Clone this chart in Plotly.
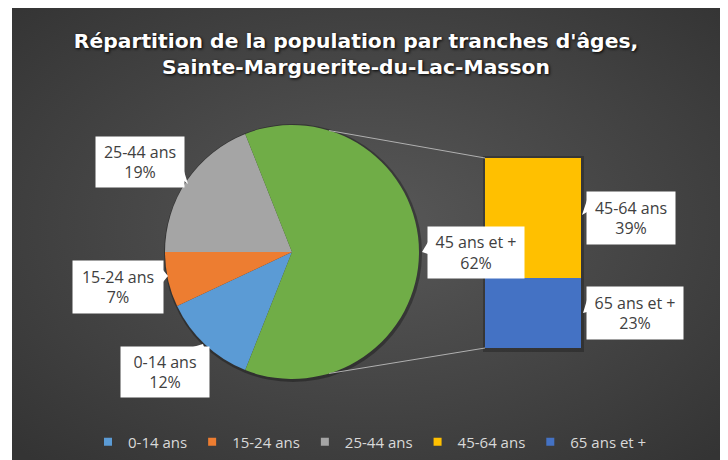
import base64
import math
import plotly.graph_objects as go

# ---------------- data ----------------
pie_labels = ["0-14 ans", "15-24 ans", "25-44 ans", "45 ans et +"]
pie_values = [12, 7, 19, 62]
pie_colors = ["#5B9BD5", "#ED7D31", "#A5A5A5", "#70AD47"]

bar_labels = ["65 ans et +", "45-64 ans"]      # bottom to top
bar_values = [23, 39]
bar_colors = ["#4472C4", "#FFC000"]

legend_labels = ["0-14 ans", "15-24 ans", "25-44 ans", "45-64 ans", "65 ans et +"]
legend_colors = ["#5B9BD5", "#ED7D31", "#A5A5A5", "#FFC000", "#4472C4"]

title_text = ("Répartition de la population par tranches d'âges,<br>"
              "Sainte-Marguerite-du-Lac-Masson")

# ---------------- geometry helpers ----------------
W, H = 720, 452          # figure size (page has an 8px body margin)
OX, OY = 8, 8


def px(x, y):
    """screen pixel -> paper coordinates"""
    return (x - OX) / W, 1 - (y - OY) / H


# pie placement (screen pixels)
pie_cx, pie_cy, pie_r = 292, 252, 127
# bar placement (screen pixels)
bar_x0, bar_x1, bar_top, bar_bot = 485, 581, 158, 348

pie_total = sum(pie_values)
bar_total = sum(bar_values)
green_share = pie_values[-1] / pie_total
# green slice centered on 3 o'clock, slices drawn clockwise
rotation = 90 - green_share * 180 - (1 - green_share) * 360 + 360

fig = go.Figure()

dx0, dy0 = px(pie_cx - pie_r, pie_cy + pie_r)
dx1, dy1 = px(pie_cx + pie_r, pie_cy - pie_r)
fig.add_trace(go.Pie(
    labels=pie_labels, values=pie_values, sort=False, direction="clockwise",
    rotation=rotation, textinfo="none", hoverinfo="label+percent",
    marker=dict(colors=pie_colors, line=dict(width=0)),
    domain=dict(x=[dx0, dx1], y=[dy0, dy1]),
    showlegend=False,
))

for lab, val, col in zip(bar_labels, bar_values, bar_colors):
    fig.add_trace(go.Bar(
        x=[0], y=[val], name=lab, marker=dict(color=col, line=dict(width=0)),
        width=1, showlegend=False, hoverinfo="name+y",
    ))

for i, (lab, col) in enumerate(zip(legend_labels, legend_colors)):
    fig.add_trace(go.Scatter(
        x=[None], y=[None], mode="markers", name=lab,
        marker=dict(symbol="square", size=8, color=col), legendrank=i + 1,
    ))

# ---------------- background (radial gradient) ----------------
svg = ('<svg xmlns="http://www.w3.org/2000/svg" width="716" height="452" '
       'viewBox="0 0 716 452" preserveAspectRatio="none">'
       '<defs><radialGradient id="g" cx="50%" cy="48%" r="70%">'
       '<stop offset="0%" stop-color="#585858"/>'
       '<stop offset="100%" stop-color="#343434"/></radialGradient></defs>'
       '<rect width="716" height="452" fill="url(#g)"/></svg>')
bg_src = "data:image/svg+xml;base64," + base64.b64encode(svg.encode()).decode()

shapes = []
# soft shadows behind pie and bar
sx0, sy0 = px(pie_cx - pie_r - 1, pie_cy + pie_r + 3)
sx1, sy1 = px(pie_cx + pie_r + 3, pie_cy - pie_r - 1)
shapes.append(dict(type="circle", xref="paper", yref="paper", layer="below",
                   x0=sx0, y0=sy0, x1=sx1, y1=sy1,
                   fillcolor="rgba(0,0,0,0.3)", line=dict(width=0)))
rx0, ry0 = px(bar_x0 - 2, bar_bot + 4)
rx1, ry1 = px(bar_x1 + 3, bar_top - 2)
shapes.append(dict(type="rect", xref="paper", yref="paper", layer="below",
                   x0=rx0, y0=ry0, x1=rx1, y1=ry1,
                   fillcolor="rgba(0,0,0,0.25)", line=dict(width=0)))

# connector lines from pie to bar
for ang, (bx, by) in [(17, (bar_x0, bar_top)), (163, (bar_x0, bar_bot))]:
    a = math.radians(ang)
    sx = pie_cx + pie_r * math.sin(a)
    sy = pie_cy - pie_r * math.cos(a)
    x0, y0 = px(sx, sy)
    x1, y1 = px(bx, by)
    shapes.append(dict(type="line", xref="paper", yref="paper",
                       x0=x0, y0=y0, x1=x1, y1=y1,
                       line=dict(color="#b0b0b0", width=1)))

# callout boxes
labels_boxes = [
    ("25-44 ans<br>19%", 139.5, 162, 88, 50, [(183, 168), (183, 180), (188, 184)]),
    ("15-24 ans<br>7%", 118, 287, 90, 52, [(163, 270), (163, 282), (168, 276)]),
    ("0-14 ans<br>12%", 165, 372, 88, 50, [(193, 347), (204, 347), (203, 344)]),
    ("45 ans et +<br>62%", 476, 252.5, 96, 51, [(428, 242), (428, 254), (422, 252)]),
    ("45-64 ans<br>39%", 631, 218, 88, 52, [(587, 200), (587, 212), (582, 215)]),
    ("65 ans et +<br>23%", 635, 313, 96, 52, [(587, 300), (587, 312), (583, 313)]),
]
annotations = []
for txt, cx, cy, w, h, tri in labels_boxes:
    ax, ay = px(cx, cy)
    annotations.append(dict(
        text=txt, x=ax, y=ay, xref="paper", yref="paper",
        xanchor="center", yanchor="middle", showarrow=False,
        width=w, height=h, bgcolor="white", borderpad=0,
        font=dict(family="Open Sans", size=16, color="#404040"),
    ))
    pts = [px(x, y) for x, y in tri]
    path = "M{},{} L{},{} L{},{} Z".format(pts[0][0], pts[0][1], pts[1][0],
                                          pts[1][1], pts[2][0], pts[2][1])
    shapes.append(dict(type="path", xref="paper", yref="paper", path=path,
                       fillcolor="white", line=dict(width=0)))

bgx, bgy = px(12, 0)
tx, ty = px(356, 48)
lx, ly = px(88, 442)
bx0, by0 = px(bar_x0, bar_bot)
bx1, by1 = px(bar_x1, bar_top)

fig.update_layout(
    width=W, height=H,
    margin=dict(l=0, r=0, t=0, b=0),
    paper_bgcolor="white",
    plot_bgcolor="rgba(0,0,0,0)",
    barmode="stack",
    bargap=0,
    images=[dict(source=bg_src, xref="paper", yref="paper",
                 x=bgx, y=1, sizex=1 - bgx, sizey=1,
                 xanchor="left", yanchor="top", sizing="stretch",
                 layer="below")],
    xaxis=dict(domain=[bx0, bx1], range=[-0.5, 0.5],
               visible=False, fixedrange=True),
    yaxis=dict(domain=[by0, by1], range=[0, bar_total],
               visible=False, fixedrange=True),
    title=dict(text=title_text, x=tx, xanchor="center",
               y=ty, yanchor="top",
               font=dict(family="DejaVu Sans", size=20.3, color="white",
                         weight="bold", shadow="1px 1px 3px #000")),
    legend=dict(orientation="h", x=lx, xanchor="left",
                y=ly, yanchor="middle",
                font=dict(family="Open Sans", size=15, color="#d9d9d9"),
                bgcolor="rgba(0,0,0,0)", traceorder="normal"),
    shapes=shapes,
    annotations=annotations,
)

fig.write_html("out.html")
